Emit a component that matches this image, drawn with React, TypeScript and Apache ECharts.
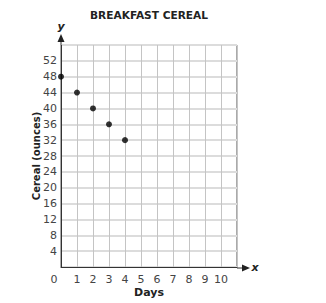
import React, { useEffect, useRef } from "react";
import * as echarts from "echarts";

const title = "BREAKFAST CEREAL";
const xName = "Days";
const yName = "Cereal (ounces)";
const days = [0, 1, 2, 3, 4];
const cereal = [48, 44, 40, 36, 32];
const xMin = 0;
const xMax = 11;
const xStep = 1;
const yMin = 0;
const yMax = 56;
const yStep = 4;
const xHiddenLabels = [11];
const yHiddenLabels = [0, 56];

const FONT = "DejaVu Sans";

export default function App() {
  const ref = useRef<HTMLDivElement>(null);
  useEffect(() => {
    if (!ref.current) return;
    const chart = echarts.init(ref.current, null, { renderer: "svg" });
    const gl = 61, gt = 45, gw = 176, gh = 223;
    chart.setOption({
      animation: false,
      title: {
        text: title,
        left: 85,
        top: 4,
        textStyle: { fontFamily: FONT, fontSize: 10.6, fontWeight: "bold", color: "#222" },
      },
      grid: {
        left: gl,
        top: gt,
        width: gw,
        height: gh,
        show: true,
        borderColor: "#555",
        borderWidth: 1,
        backgroundColor: "transparent",
      },
      xAxis: {
        type: "value",
        min: xMin,
        max: xMax,
        interval: xStep,
        name: xName,
        nameLocation: "middle",
        nameGap: 20,
        nameMoveOverlap: false,
        nameTextStyle: { fontFamily: FONT, fontSize: 11, fontWeight: "bold", color: "#222" },
        axisLine: { show: true, lineStyle: { color: "#333", width: 1 } },
        axisTick: { show: false },
        axisLabel: {
          fontFamily: FONT,
          fontSize: 11,
          color: "#444",
          margin: 7,
          formatter: (v: number) =>
            xHiddenLabels.includes(v) ? "" : v === 0 ? "{z|0}" : String(v),
          rich: { z: { fontFamily: FONT, fontSize: 11, color: "#444", padding: [0, 14, 0, 0] } },
        },
        splitLine: { show: true, lineStyle: { color: "#c4c4c4", width: 1 } },
      },
      yAxis: {
        type: "value",
        min: yMin,
        max: yMax,
        interval: yStep,
        name: yName,
        nameLocation: "middle",
        nameGap: 20,
        nameMoveOverlap: false,
        nameTextStyle: { fontFamily: FONT, fontSize: 10, fontWeight: "bold", color: "#222" },
        axisLine: { show: true, lineStyle: { color: "#333", width: 1 } },
        axisTick: { show: false },
        axisLabel: {
          fontFamily: FONT,
          fontSize: 11,
          color: "#444",
          margin: 4,
          formatter: (v: number) => (yHiddenLabels.includes(v) ? "" : String(v)),
        },
        splitLine: { show: true, lineStyle: { color: "#dcdcdc", width: 2 } },
      },
      series: [
        {
          type: "scatter",
          data: days.map((d, i) => [d, cereal[i]]),
          symbol: "circle",
          symbolSize: 6,
          itemStyle: { color: "#000" },
          clip: false,
          z: 5,
        },
      ],
      graphic: [
        { type: "line", shape: { x1: gl, y1: gt, x2: gl, y2: gt - 9 }, style: { stroke: "#333", lineWidth: 1 } },
        { type: "polygon", shape: { points: [[gl, gt - 11], [gl - 3.5, gt - 3], [gl + 3.5, gt - 3]] }, style: { fill: "#222" } },
        { type: "text", x: gl, y: gt - 24, style: { text: "y", font: "italic bold 11px DejaVu Sans", fill: "#222", align: "center" } },
        { type: "line", shape: { x1: gl + gw, y1: gt + gh, x2: gl + gw + 10, y2: gt + gh }, style: { stroke: "#333", lineWidth: 1 } },
        { type: "polygon", shape: { points: [[gl + gw + 13, gt + gh], [gl + gw + 5, gt + gh - 3.5], [gl + gw + 5, gt + gh + 3.5]] }, style: { fill: "#222" } },
        { type: "text", x: gl + gw + 18, y: gt + gh - 6, style: { text: "x", font: "italic bold 11px DejaVu Sans", fill: "#222", align: "center" } },
      ],
    });
    return () => chart.dispose();
  }, []);
  return <div ref={ref} style={{ position: "fixed", left: 0, top: 0, width: 326, height: 303, background: "#fff" }} />;
}
